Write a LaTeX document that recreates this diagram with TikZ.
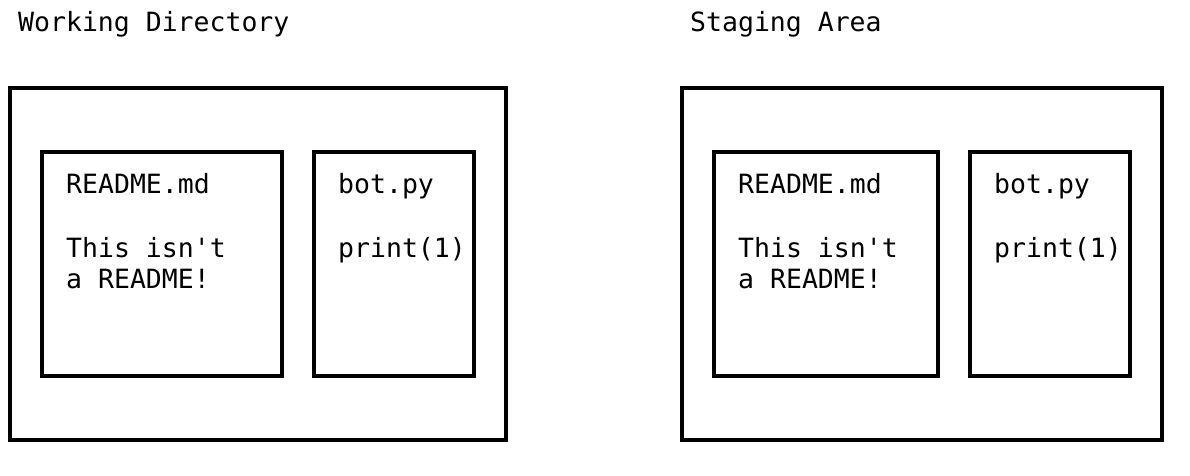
\documentclass[tikz,border=0pt]{standalone}
\usepackage{fontspec}
\setmonofont{DejaVu Sans Mono}
\begin{document}
\begin{tikzpicture}[x=1pt,y=-1pt,
  box/.style={draw=black,line width=4pt},
  txt/.style={anchor=base west,inner sep=0pt,font=\ttfamily\fontsize{26.5}{32}\selectfont}]
\useasboundingbox (0,0) rectangle (1190,476);
% left panel
\node[txt] (t1) at (18,32) {Working Directory};
\draw[box] (10,88) rectangle (506,440);
\draw[box] (42,152) rectangle (282,376);
\draw[box] (314,152) rectangle (474,376);
\node[txt] (l1) at (66,193) {README.md};
\node[txt] (l2) at (66,257) {This isn't};
\node[txt] (l3) at (66,288) {a README!};
\node[txt] (l4) at (338,193) {bot.py};
\node[txt] (l5) at (338,257) {print(1)};
% right panel
\node[txt] (t2) at (690,32) {Staging Area};
\draw[box] (682,88) rectangle (1162,440);
\draw[box] (714,152) rectangle (938,376);
\draw[box] (970,152) rectangle (1130,376);
\node[txt] (r1) at (738,193) {README.md};
\node[txt] (r2) at (738,257) {This isn't};
\node[txt] (r3) at (738,288) {a README!};
\node[txt] (r4) at (994,193) {bot.py};
\node[txt] (r5) at (994,257) {print(1)};
\end{tikzpicture}
\end{document}
